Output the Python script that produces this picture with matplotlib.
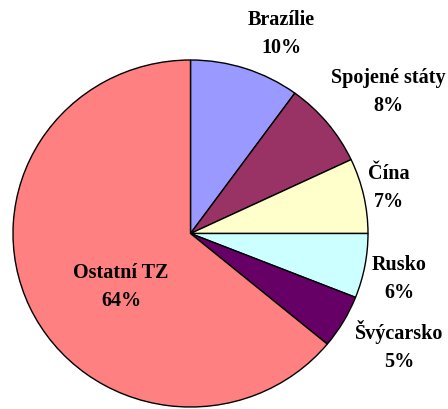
import matplotlib
matplotlib.use("Agg")
import matplotlib.pyplot as plt

# slice data, clockwise from 12 o'clock
countries = ["Brazílie", "Spojené státy", "Čína", "Rusko", "Švýcarsko", "Ostatní TZ"]
shares = [10, 8, 7, 6, 5, 64]
colors = ["#9999FF", "#993366", "#FFFFCC", "#CCFFFF", "#660066", "#FF8080"]

# label centres in pixels (x, y from top)
label_px = [(281, 34), (388, 92), (389, 188), (399, 279), (399, 346), (121, 287)]

W, H = 448, 410
fig = plt.figure(figsize=(W / 100, H / 100), dpi=100)

# pie box in pixels: left 13, right 368, top 61, bottom 408
left, right, top, bottom = 13, 368, 61, 408
ax = fig.add_axes([left / W, 1 - bottom / H, (right - left) / W, (bottom - top) / H])
ax.pie(shares, colors=colors, startangle=90, counterclock=False,
       wedgeprops=dict(edgecolor="black", linewidth=1.0))
ax.set_aspect("auto")
ax.set_xlim(-1, 1)
ax.set_ylim(-1, 1)
ax.axis("off")

for name, val, (px, py) in zip(countries, shares, label_px):
    fig.text(px / W, 1 - py / H, f"{name}\n{val}%", ha="center", va="center",
             fontsize=14.5, fontweight="bold", family="Liberation Serif",
             multialignment="center", linespacing=1.55)

fig.savefig("out.png", dpi=100)
